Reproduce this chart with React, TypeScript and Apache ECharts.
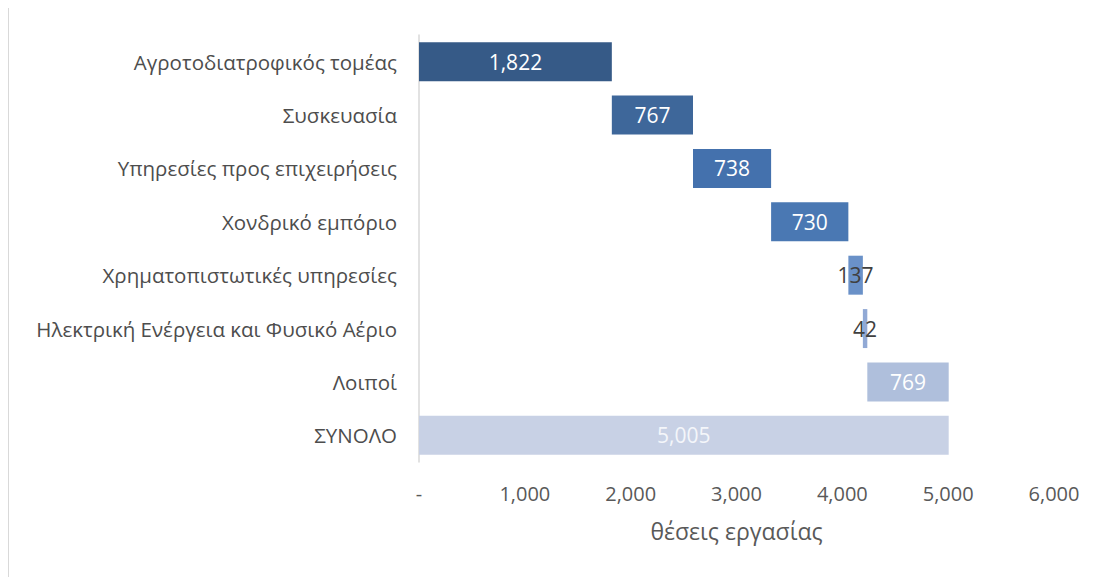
import React, { useEffect, useRef } from "react";
import * as echarts from "echarts";

const categories = [
  "Αγροτοδιατροφικός τομέας",
  "Συσκευασία",
  "Υπηρεσίες προς επιχειρήσεις",
  "Χονδρικό εμπόριο",
  "Χρηματοπιστωτικές υπηρεσίες",
  "Ηλεκτρική Ενέργεια και Φυσικό Αέριο",
  "Λοιποί",
  "ΣΥΝΟΛΟ",
];
const values = [1822, 767, 738, 730, 137, 42, 769, 5005];
const barColors = ["#365A87", "#3E679A", "#4471AD", "#4A78B3", "#6A91C8", "#91A9D5", "#AFBFDC", "#C8D1E5"];
const labelColors = ["#ffffff", "#ffffff", "#ffffff", "#ffffff", "#404040", "#404040", "#ffffff", "#f4f6fa"];
const xTicks = [0, 1000, 2000, 3000, 4000, 5000, 6000];
const axisTitle = "θέσεις εργασίας";

const FONT = "'Open Sans', sans-serif";

export default function App() {
  const ref = useRef<HTMLDivElement>(null);
  useEffect(() => {
    if (!ref.current) return;
    const chart = echarts.init(ref.current, null, { renderer: "svg" });
    const bases: number[] = [];
    let acc = 0;
    values.forEach((v, i) => {
      if (i === values.length - 1) bases.push(0);
      else {
        bases.push(acc);
        acc += v;
      }
    });
    chart.setOption({
      animation: false,
      textStyle: { fontFamily: FONT },
      grid: { left: 410, top: 27, width: 635, height: 427, containLabel: false },
      xAxis: {
        type: "value",
        min: xTicks[0],
        max: xTicks[xTicks.length - 1],
        interval: 1000,
        axisLine: { show: false },
        axisTick: { show: false },
        splitLine: { show: false },
        axisLabel: {
          color: "#595959",
          fontSize: 20,
          fontFamily: FONT,
          margin: 21,
          formatter: (v: number) => (v === 0 ? "-" : v.toLocaleString("en-US")),
        },
        name: axisTitle,
        nameLocation: "middle",
        nameGap: 57,
        nameTextStyle: { color: "#595959", fontSize: 23, fontFamily: FONT },
      },
      yAxis: {
        type: "category",
        data: categories,
        inverse: true,
        axisLine: { show: true, lineStyle: { color: "#d9d9d9", width: 1.5 } },
        axisTick: { show: false },
        axisLabel: { color: "#4d4d4d", fontSize: 20.5, fontFamily: FONT, margin: 22 },
      },
      series: [
        {
          type: "bar",
          stack: "w",
          data: bases,
          itemStyle: { color: "transparent" },
          barCategoryGap: "27%",
          silent: true,
        },
        {
          type: "bar",
          stack: "w",
          barCategoryGap: "27%",
          data: values.map((v, i) => ({
            value: v,
            itemStyle: { color: barColors[i] },
            label: { color: labelColors[i] },
          })),
          label: {
            show: true,
            position: "inside",
            fontSize: 21,
            fontFamily: FONT,
            formatter: (p: any) => Number(p.value).toLocaleString("en-US"),
          },
        },
      ],
    });
    return () => chart.dispose();
  }, []);
  return (
    <div style={{ width: 1098, height: 570, borderLeft: "1px solid #d9d9d9", borderTop: "1px solid #d9d9d9", marginTop: -1, boxSizing: "border-box", overflow: "hidden" }}>
      <div ref={ref} style={{ width: 1097, height: 569 }} />
    </div>
  );
}
